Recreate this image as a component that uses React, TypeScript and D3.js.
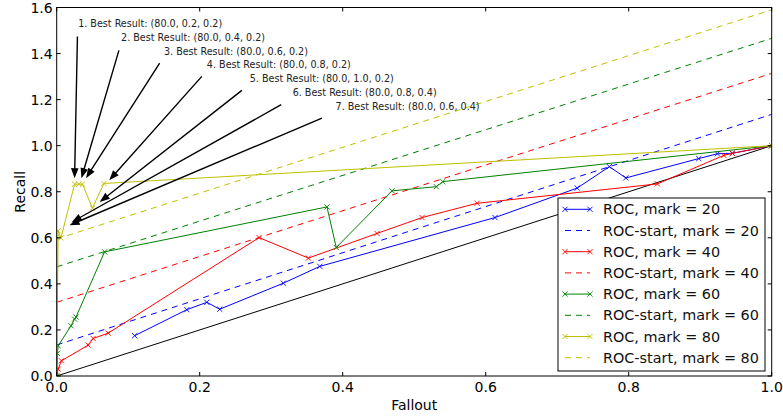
import React from 'react';
import * as d3 from 'd3';

// ROC curves (fallout, recall) per mark
const roc20X = [0.109, 0.182, 0.21, 0.228, 0.317, 0.368, 0.613, 0.728, 0.773, 0.796, 0.898, 0.924, 0.945, 1.0];
const roc20Y = [0.175, 0.288, 0.32, 0.29, 0.403, 0.476, 0.688, 0.816, 0.909, 0.86, 0.944, 0.965, 0.967, 1.0];

const roc40X = [0, 0.002, 0.0066, 0.044, 0.051, 0.072, 0.283, 0.352, 0.448, 0.511, 0.588, 0.84, 0.933, 0.945, 1.0];
const roc40Y = [0, 0.03, 0.066, 0.134, 0.163, 0.186, 0.601, 0.512, 0.619, 0.688, 0.75, 0.834, 0.958, 0.967, 1.0];

const roc60X = [0, 0.001, 0.002, 0.02, 0.025, 0.027, 0.067, 0.378, 0.391, 0.469, 0.531, 0.54, 1.0];
const roc60Y = [0, 0.098, 0.131, 0.218, 0.247, 0.256, 0.539, 0.734, 0.558, 0.804, 0.822, 0.844, 1.0];

const roc80X = [0, 0.002, 0.006, 0.025, 0.031, 0.036, 0.05, 0.066, 1.0];
const roc80Y = [0, 0.63, 0.6, 0.833, 0.833, 0.833, 0.729, 0.836, 1.0];

// ROC-start dashed lines, recall at fallout 0 and 1
const startAt0 = [0.135, 0.32, 0.474, 0.595];
const startAt1 = [1.136, 1.314, 1.466, 1.59];

const marks = [20, 40, 60, 80];
const colors = ['#0000ff', '#ff0000', '#008000', '#bfbf00'];

// annotations
const bestLabels = [
  '1. Best Result: (80.0, 0.2, 0.2)',
  '2. Best Result: (80.0, 0.4, 0.2)',
  '3. Best Result: (80.0, 0.6, 0.2)',
  '4. Best Result: (80.0, 0.8, 0.2)',
  '5. Best Result: (80.0, 1.0, 0.2)',
  '6. Best Result: (80.0, 0.8, 0.4)',
  '7. Best Result: (80.0, 0.6, 0.4)',
];
const textX = [0.03, 0.09, 0.15, 0.21, 0.27, 0.33, 0.39];
const textY = [1.53, 1.471, 1.411, 1.352, 1.291, 1.232, 1.171];
const tailX = [0.029, 0.087, 0.144, 0.203, 0.259, 0.314, 0.371];
const tailY = [1.474, 1.414, 1.359, 1.301, 1.24, 1.178, 1.12];
const headX = [0.025, 0.0346, 0.041, 0.0735, 0.0602, 0.021, 0.018];
const headY = [0.859, 0.859, 0.859, 0.85, 0.756, 0.668, 0.655];

const xTicks = [0, 0.2, 0.4, 0.6, 0.8, 1.0];
const yTicks = [0, 0.2, 0.4, 0.6, 0.8, 1.0, 1.2, 1.4, 1.6];

const W = 783;
const H = 420;
const m = { left: 56.7, right: 771.7, top: 7.5, bottom: 376 };
const FONT = 'DejaVu Sans, sans-serif';

const x = d3.scaleLinear().domain([0, 1]).range([m.left, m.right]);
const y = d3.scaleLinear().domain([0, 1.6]).range([m.bottom, m.top]);

const line = d3
  .line<[number, number]>()
  .x((d) => x(d[0]))
  .y((d) => y(d[1]));

const rocs = [
  [roc20X, roc20Y],
  [roc40X, roc40Y],
  [roc60X, roc60Y],
  [roc80X, roc80Y],
];

const Cross = ({ cx, cy, color, s = 2.6 }: { cx: number; cy: number; color: string; s?: number }) => (
  <path
    d={`M${cx - s},${cy - s}L${cx + s},${cy + s}M${cx - s},${cy + s}L${cx + s},${cy - s}`}
    stroke={color}
    strokeWidth={0.9}
  />
);

// filled arrow from tail to head
const arrowPath = (x0: number, y0: number, x1: number, y1: number) => {
  const dx = x1 - x0;
  const dy = y1 - y0;
  const len = Math.sqrt(dx * dx + dy * dy);
  const ux = dx / len;
  const uy = dy / len;
  const px = -uy;
  const py = ux;
  const hl = 10;
  const hw = 3.8;
  const sw = 0.7;
  const bx = x1 - ux * hl;
  const by = y1 - uy * hl;
  const pts = [
    [x0 + px * sw, y0 + py * sw],
    [bx + px * sw, by + py * sw],
    [bx + px * hw, by + py * hw],
    [x1, y1],
    [bx - px * hw, by - py * hw],
    [bx - px * sw, by - py * sw],
    [x0 - px * sw, y0 - py * sw],
  ];
  return 'M' + pts.map((p) => p.join(',')).join('L') + 'Z';
};

const App = () => {
  const legend = { x: 558, y: 198, w: 207, h: 173, row: 21.2, first: 11.3 };
  const legendItems: { label: string; color: string; dashed: boolean }[] = [];
  marks.forEach((mk, i) => {
    legendItems.push({ label: `ROC, mark = ${mk}`, color: colors[i], dashed: false });
    legendItems.push({ label: `ROC-start, mark = ${mk}`, color: colors[i], dashed: true });
  });

  return (
    <svg
      width={W}
      height={H}
      style={{ position: 'absolute', left: 0, top: 0, background: '#fff' }}
      fontFamily={FONT}
    >
      <defs>
        <clipPath id="plot">
          <rect x={m.left} y={m.top} width={m.right - m.left} height={m.bottom - m.top} />
        </clipPath>
      </defs>

      <g clipPath="url(#plot)">
        {/* diagonal */}
        <path d={line([[0, 0], [1, 1]]) as string} stroke="#000" strokeWidth={1} fill="none" />

        {/* ROC-start dashed */}
        {startAt0.map((b, i) => (
          <path
            key={'s' + i}
            d={line([[0, b], [1, startAt1[i]]]) as string}
            stroke={colors[i]}
            strokeWidth={1}
            strokeDasharray="6,5"
            fill="none"
          />
        ))}

        {/* ROC curves */}
        {rocs.map(([xs, ys], i) => (
          <g key={'r' + i}>
            <path
              d={line(xs.map((v, j) => [v, ys[j]] as [number, number])) as string}
              stroke={colors[i]}
              strokeWidth={1}
              fill="none"
            />
            {xs.map((v, j) => (
              <Cross key={j} cx={x(v)} cy={y(ys[j])} color={colors[i]} />
            ))}
          </g>
        ))}
      </g>

      {/* arrows + annotation text */}
      {bestLabels.map((t, i) => (
        <g key={'a' + i}>
          <path d={arrowPath(x(tailX[i]), y(tailY[i]), x(headX[i]), y(headY[i]))} fill="#000" />
          <text x={x(textX[i])} y={y(textY[i])} fontSize={9.6} dominantBaseline="central" fill="#222">
            {t}
          </text>
        </g>
      ))}

      {/* frame */}
      <rect
        x={m.left}
        y={m.top}
        width={m.right - m.left}
        height={m.bottom - m.top}
        fill="none"
        stroke="#000"
        strokeWidth={1}
      />

      {/* ticks */}
      {xTicks.map((t) => (
        <g key={'x' + t}>
          <line x1={x(t)} x2={x(t)} y1={m.bottom} y2={m.bottom - 4} stroke="#000" />
          <line x1={x(t)} x2={x(t)} y1={m.top} y2={m.top + 4} stroke="#000" />
          <text x={x(t)} y={m.bottom + 11} fontSize={14} textAnchor="middle" dominantBaseline="central">
            {t.toFixed(1)}
          </text>
        </g>
      ))}
      {yTicks.map((t) => (
        <g key={'y' + t}>
          <line x1={m.left} x2={m.left + 4} y1={y(t)} y2={y(t)} stroke="#000" />
          <line x1={m.right} x2={m.right - 4} y1={y(t)} y2={y(t)} stroke="#000" />
          <text x={m.left - 4} y={y(t)} fontSize={14} textAnchor="end" dominantBaseline="central">
            {t.toFixed(1)}
          </text>
        </g>
      ))}

      {/* axis labels */}
      <text x={(m.left + m.right) / 2} y={405} fontSize={14} textAnchor="middle" dominantBaseline="central">
        Fallout
      </text>
      <text
        transform={`translate(20,${(m.top + m.bottom) / 2}) rotate(-90)`}
        fontSize={14}
        textAnchor="middle"
        dominantBaseline="central"
      >
        Recall
      </text>

      {/* legend */}
      <g transform={`translate(${legend.x},${legend.y})`}>
        <rect x={0} y={0} width={legend.w} height={legend.h} fill="#fff" stroke="#000" strokeWidth={1} />
        {legendItems.map((it, i) => {
          const cy = legend.first + i * legend.row;
          return (
            <g key={'l' + i}>
              <line
                x1={7}
                x2={32}
                y1={cy}
                y2={cy}
                stroke={it.color}
                strokeWidth={1}
                strokeDasharray={it.dashed ? '6,5' : undefined}
              />
              {!it.dashed && (
                <>
                  <Cross cx={7} cy={cy} color={it.color} />
                  <Cross cx={32} cy={cy} color={it.color} />
                </>
              )}
              <text x={45} y={cy} fontSize={14.4} dominantBaseline="central" fill="#111">
                {it.label}
              </text>
            </g>
          );
        })}
      </g>
    </svg>
  );
};

export default App;
